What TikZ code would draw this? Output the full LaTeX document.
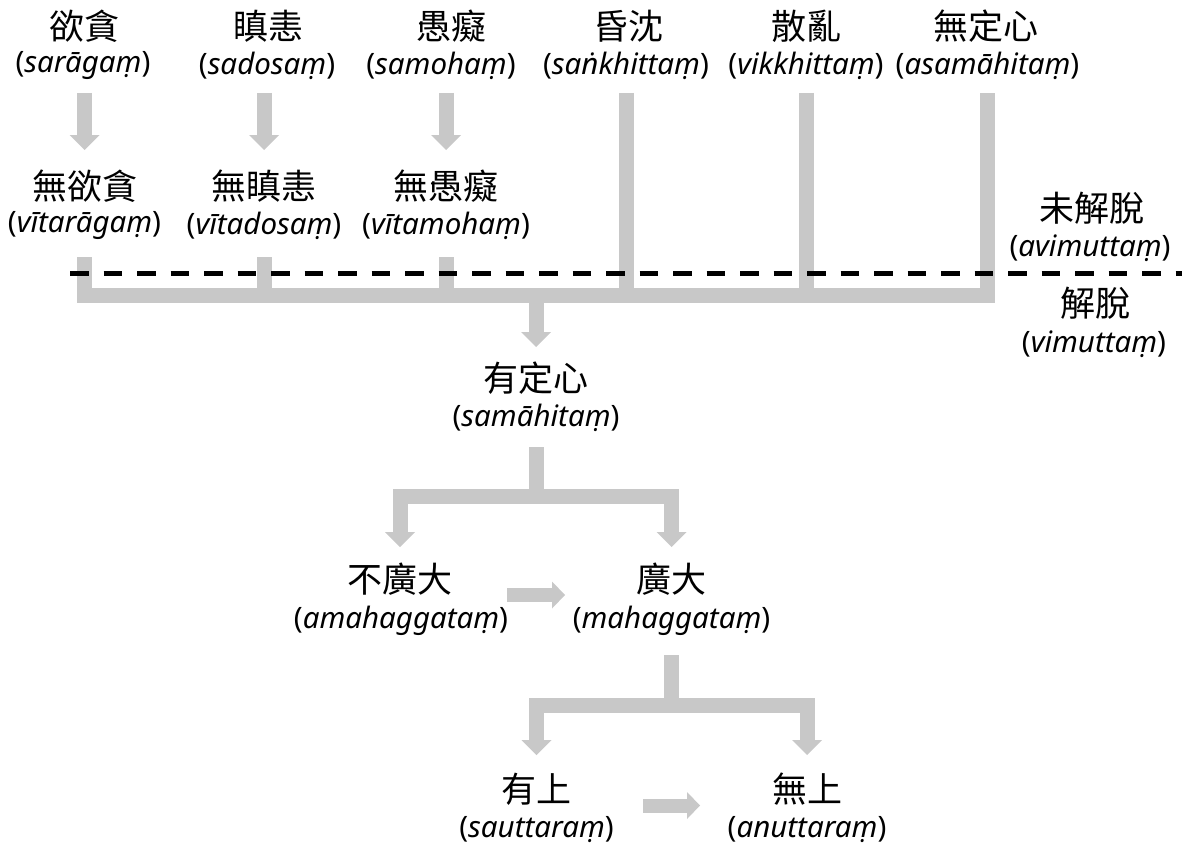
\documentclass[tikz,border=0pt]{standalone}
\usepackage{fontspec}
\setmainfont{Noto Sans}
\newfontfamily\cjkfont{Noto Sans CJK TC}
\usetikzlibrary{arrows.meta}
\definecolor{barcol}{RGB}{200,200,200}
\tikzset{
  cj/.style={inner sep=0pt, font=\cjkfont\fontsize{35}{40}\selectfont},
  la/.style={inner sep=0pt, font=\fontsize{29.5}{34}\selectfont},
  gbar/.style={draw=barcol, line width=15pt, line join=miter},
  garrow/.style={gbar, -{Triangle[width=30pt,length=15pt,line width=0pt]}},
  harrow/.style={draw=barcol, line width=14pt, -{Triangle[width=27pt,length=13pt,line width=0pt]}},
  dashline/.style={draw=black, line width=5pt, dash pattern=on 18.5pt off 15pt},
}
\begin{document}
\begin{tikzpicture}[x=1pt,y=-1pt]
\useasboundingbox[fill=white] (0,0) rectangle (1182,848);
% top row
\node[cj] (a1) at (84,26.5) {欲貪};
\node[la] (a1p) at (83,66) {(\textit{sarāgaṃ})};
\node[cj] (a2) at (268,26.5) {瞋恚};
\node[la] (a2p) at (267,66) {(\textit{sadosaṃ})};
\node[cj] (a3) at (451,26.5) {愚癡};
\node[la] (a3p) at (441,66) {(\textit{samohaṃ})};
\node[cj] (a4) at (628,26.5) {昏沈};
\node[la] (a4p) at (626,66) {(\textit{saṅkhittaṃ})};
\node[cj] (a5) at (806,26.5) {散亂};
\node[la] (a5p) at (806,66) {(\textit{vikkhittaṃ})};
\node[cj] (a6) at (986,26.5) {無定心};
\node[la] (a6p) at (987.5,66) {(\textit{asamāhitaṃ})};
% second row
\node[cj] (b1) at (84.5,186) {無欲貪};
\node[la] (b1p) at (84.5,226) {(\textit{vītarāgaṃ})};
\node[cj] (b2) at (264,186) {無瞋恚};
\node[la] (b2p) at (264,226) {(\textit{vītadosaṃ})};
\node[cj] (b3) at (446,186) {無愚癡};
\node[la] (b3p) at (446,226) {(\textit{vītamohaṃ})};
% side labels
\node[cj] (u1) at (1092,208) {未解脫};
\node[la] (u1p) at (1090,248) {(\textit{avimuttaṃ})};
\node[cj] (v1) at (1095,303) {解脫};
\node[la] (v1p) at (1094,344) {(\textit{vimuttaṃ})};
% middle
\node[cj] (c1) at (536,378) {有定心};
\node[la] (c1p) at (536,418) {(\textit{samāhitaṃ})};
\node[cj] (d1) at (400,579) {不廣大};
\node[la] (d1p) at (401,621) {(\textit{amahaggataṃ})};
\node[cj] (d2) at (671.5,579) {廣大};
\node[la] (d2p) at (671.5,621) {(\textit{mahaggataṃ})};
\node[cj] (e1) at (536.5,789) {有上};
\node[la] (e1p) at (536.5,830) {(\textit{sauttaraṃ})};
\node[cj] (e2) at (807,789) {無上};
\node[la] (e2p) at (807,830) {(\textit{anuttaraṃ})};
% down arrows top row
\draw[garrow] (b1 |- 0,93) -- (b1 |- 0,150);
\draw[garrow] (b2 |- 0,93) -- (b2 |- 0,150);
\draw[garrow] (b3 |- 0,93) -- (b3 |- 0,150);
% bus
\draw[gbar] (b1 |- 0,257) -- (b1 |- 0,295.5) -- (a6p |- 0,295.5) -- (a6p |- 0,93);
\draw[gbar] (b2 |- 0,257) -- (b2 |- 0,295.5);
\draw[gbar] (b3 |- 0,257) -- (b3 |- 0,295.5);
\draw[gbar] (a4p |- 0,93) -- (a4p |- 0,295.5);
\draw[gbar] (a5p |- 0,93) -- (a5p |- 0,295.5);
% dashed divider
\coordinate (dl) at (70,273);
\coordinate (dr) at (1182,273);
\draw[dashline] (dl) -- (dr);
% to samahitam
\draw[garrow] (c1 |- 0,303) -- (c1 |- 0,347);
% split 1
\draw[gbar] (c1 |- 0,447) -- (c1 |- 0,496.5);
\draw[garrow] (d1 |- 0,496.5) -- (d2 |- 0,496.5) -- (d2 |- 0,547);
\draw[garrow] (c1 |- 0,496.5) -- (d1 |- 0,496.5) -- (d1 |- 0,547);
\draw[harrow] (507,595) -- (565,595);
% split 2
\draw[gbar] (d2 |- 0,655) -- (d2 |- 0,705);
\draw[garrow] (d2 |- 0,705) -- (e2 |- 0,705) -- (e2 |- 0,755);
\draw[garrow] (d2 |- 0,705) -- (e1 |- 0,705) -- (e1 |- 0,755);
\draw[harrow] (643,805.5) -- (700,805.5);
\end{tikzpicture}
\end{document}
